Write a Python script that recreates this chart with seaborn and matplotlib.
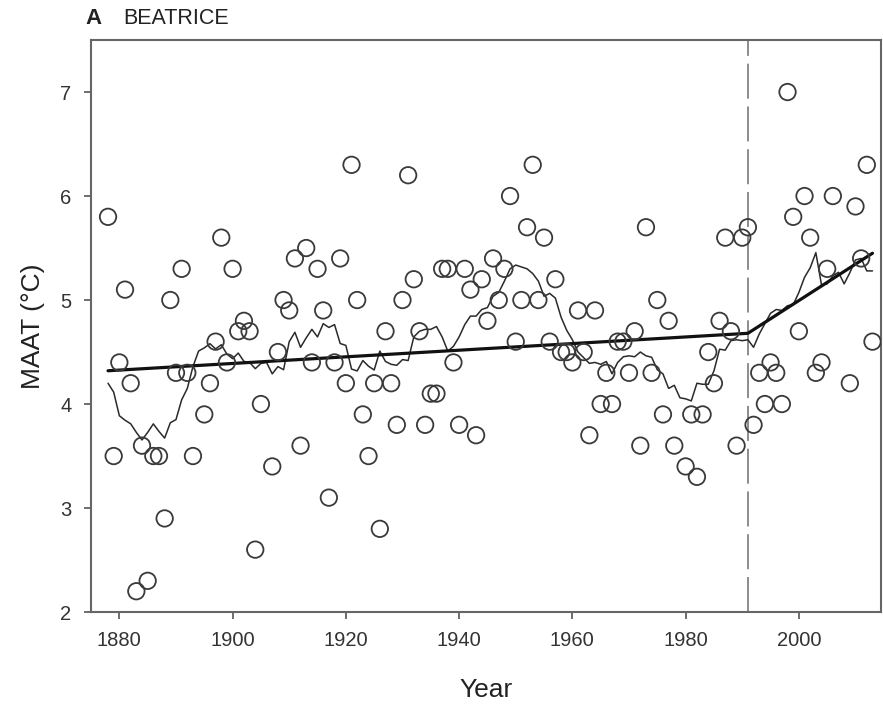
import numpy as np
import pandas as pd
import matplotlib
matplotlib.use("Agg")
import matplotlib.pyplot as plt
import seaborn as sns

# ---- data ----
years = [1878, 1879, 1880, 1881, 1882, 1883, 1884, 1885, 1886, 1887, 1888, 1889,
         1890, 1891, 1892, 1893, 1895, 1896, 1897, 1898, 1899, 1900, 1901, 1902,
         1903, 1904, 1905, 1907, 1908, 1909, 1910, 1911, 1912, 1913, 1914, 1915,
         1916, 1917, 1918, 1919, 1920, 1921, 1922, 1923, 1924, 1925, 1926, 1927,
         1928, 1929, 1930, 1931, 1932, 1933, 1934, 1935, 1936, 1937, 1938, 1939,
         1940, 1941, 1942, 1943, 1944, 1945, 1946, 1947, 1948, 1949, 1950, 1951,
         1952, 1953, 1954, 1955, 1956, 1957, 1958, 1959, 1960, 1961, 1962, 1963,
         1964, 1965, 1966, 1967, 1968, 1969, 1970, 1971, 1972, 1973, 1974, 1975,
         1976, 1977, 1978, 1980, 1981, 1982, 1983, 1984, 1985, 1986, 1987, 1988,
         1989, 1990, 1991, 1992, 1993, 1994, 1995, 1996, 1997, 1998, 1999, 2000,
         2001, 2002, 2003, 2004, 2005, 2006, 2009, 2010, 2011, 2012, 2013]
maat = [5.8, 3.5, 4.4, 5.1, 4.2, 2.2, 3.6, 2.3, 3.5, 3.5, 2.9, 5.0,
        4.3, 5.3, 4.3, 3.5, 3.9, 4.2, 4.6, 5.6, 4.4, 5.3, 4.7, 4.8,
        4.7, 2.6, 4.0, 3.4, 4.5, 5.0, 4.9, 5.4, 3.6, 5.5, 4.4, 5.3,
        4.9, 3.1, 4.4, 5.4, 4.2, 6.3, 5.0, 3.9, 3.5, 4.2, 2.8, 4.7,
        4.2, 3.8, 5.0, 6.2, 5.2, 4.7, 3.8, 4.1, 4.1, 5.3, 5.3, 4.4,
        3.8, 5.3, 5.1, 3.7, 5.2, 4.8, 5.4, 5.0, 5.3, 6.0, 4.6, 5.0,
        5.7, 6.3, 5.0, 5.6, 4.6, 5.2, 4.5, 4.5, 4.4, 4.9, 4.5, 3.7,
        4.9, 4.0, 4.3, 4.0, 4.6, 4.6, 4.3, 4.7, 3.6, 5.7, 4.3, 5.0,
        3.9, 4.8, 3.6, 3.4, 3.9, 3.3, 3.9, 4.5, 4.2, 4.8, 5.6, 4.7,
        3.6, 5.6, 5.7, 3.8, 4.3, 4.0, 4.4, 4.3, 4.0, 7.0, 5.8, 4.7,
        6.0, 5.6, 4.3, 4.4, 5.3, 6.0, 4.2, 5.9, 5.4, 6.3, 4.6]

# piecewise linear trend (break at 1991)
trend_years = [1878, 1991, 2013]
trend_vals = [4.32, 4.68, 5.45]
break_year = 1991

x_ticks = [1880, 1900, 1920, 1940, 1960, 1980, 2000]
y_ticks = [2, 3, 4, 5, 6, 7]

# ---- build tables ----
df = pd.DataFrame({"Year": years, "MAAT": maat})
full = df.set_index("Year").reindex(range(min(years), max(years) + 1))
smooth = full["MAAT"].rolling(window=11, center=True, min_periods=1).mean()
df_smooth = pd.DataFrame({"Year": smooth.index, "MAAT": smooth.values})
df_trend = pd.DataFrame({"Year": trend_years, "MAAT": trend_vals})

# ---- figure ----
sns.set_theme(style="white")
plt.rcParams["font.family"] = ["Liberation Sans", "DejaVu Sans"]

fig = plt.figure(figsize=(8.83, 7.06), dpi=100)
ax = fig.add_axes([0.1031, 0.1331, 0.8946, 0.8102])

ax.axvline(break_year, color="#8c8c8c", lw=1.4, ls=(0, (18, 4)), zorder=1)

sns.lineplot(data=df_smooth, x="Year", y="MAAT", ax=ax, color="#2a2a2a",
             lw=1.1, estimator=None, zorder=2)
sns.lineplot(data=df_trend, x="Year", y="MAAT", ax=ax, color="#111111",
             lw=2.3, estimator=None, zorder=3)
sns.scatterplot(data=df, x="Year", y="MAAT", ax=ax, s=140, marker="o",
                facecolors="none", edgecolor="#3a3a3a", linewidth=1.3,
                zorder=4)

ax.set_xlim(1875, 2014.5)
ax.set_ylim(2, 7.5)
ax.set_xticks(x_ticks)
ax.set_yticks(y_ticks)
ax.tick_params(axis="both", which="major", direction="out", length=5,
               width=1.2, color="#555555", labelsize=14.5, labelcolor="#333333",
               bottom=True, left=True, top=False, right=False, pad=9)
for sp in ax.spines.values():
    sp.set_color("#666666")
    sp.set_linewidth(1.5)

ax.set_xlabel("Year", fontsize=19, color="#222222", labelpad=20)
ax.set_ylabel("MAAT (°C)", fontsize=19, color="#222222", labelpad=11)

fig.text(0.097, 0.974, "A", fontsize=16, fontweight="bold", color="#222222",
         ha="left", va="center")
fig.text(0.140, 0.974, "BEATRICE", fontsize=15.5, color="#222222",
         ha="left", va="center")

fig.savefig("out.png", dpi=100)
